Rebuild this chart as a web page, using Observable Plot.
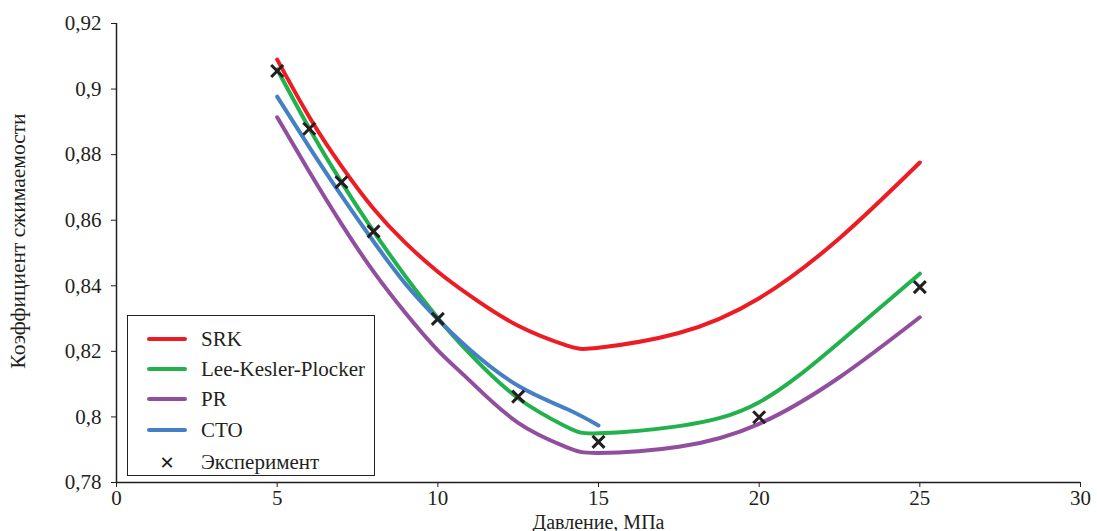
<!DOCTYPE html>
<html>
<head>
<meta charset="utf-8">
<script src="https://cdn.jsdelivr.net/npm/d3@7"></script>
<script src="https://cdn.jsdelivr.net/npm/@observablehq/plot@0.6"></script>
<style>
  body { margin: 0; background: white; }
  #wrap { position: relative; width: 1097px; height: 531px; font-family: "Liberation Serif", serif; }
  #wrap svg text { font-family: "Liberation Serif", serif; }
  #legend { position: absolute; left: 127px; top: 315px; width: 246px; height: 159px; border: 1.5px solid #231f20; background: white; }
  .row { position: absolute; left: 0; height: 24px; display: flex; align-items: center; font-size: 21px; color: #231f20; white-space: nowrap; }
  .sw { width: 40px; height: 4px; border-radius: 2px; margin-left: 19px; margin-right: 14px; }
  .cross { width: 40px; margin-left: 19px; margin-right: 14px; text-align: center; font-family: "DejaVu Sans"; font-weight: bold; font-size: 18px; color: #231f20; }
</style>
</head>
<body>
<div id="wrap"><div id="legend"></div></div>
<script>
const xLabel = "Давление, МПа";
const yLabel = "Коэффициент сжимаемости";
const xTicks = [0, 5, 10, 15, 20, 25, 30];
const yTicks = [0.78, 0.80, 0.82, 0.84, 0.86, 0.88, 0.90, 0.92];

const seriesNames = ["SRK", "Lee-Kesler-Plocker", "PR", "СТО"];
const seriesColors = ["#ED1C24", "#22B14C", "#924E9E", "#4680C4"];
const expName = "Эксперимент";

const xs  = [5, 6, 7, 8, 9, 10, 11, 12.5, 14, 15, 17.5, 20, 22.5, 25];
const srk = [0.909, 0.8915, 0.8765, 0.8635, 0.853, 0.8443, 0.837, 0.8278, 0.8218, 0.8211, 0.8256, 0.8362, 0.8545, 0.8776];
const lkp = [0.906, 0.888, 0.8716, 0.8566, 0.8428, 0.8302, 0.8192, 0.8057, 0.7970, 0.7950, 0.7972, 0.8045, 0.8228, 0.8437];
const pr  = [0.8914, 0.8748, 0.8589, 0.8443, 0.8316, 0.8203, 0.8110, 0.7982, 0.7908, 0.7890, 0.7909, 0.7979, 0.8121, 0.8304];
const stoX = [5, 6, 7, 8, 9, 10, 11, 12.5, 14, 15];
const sto  = [0.8977, 0.8823, 0.8675, 0.8535, 0.8405, 0.8298, 0.8205, 0.8095, 0.8025, 0.7974];

const expX = [5, 6, 7, 8, 10, 12.5, 15, 20, 25];
const expY = [0.9055, 0.8879, 0.8716, 0.8566, 0.8299, 0.8062, 0.7924, 0.7999, 0.8396];

const seriesData = [
  xs.map((x, i) => ({x, y: srk[i]})),
  xs.map((x, i) => ({x, y: lkp[i]})),
  xs.map((x, i) => ({x, y: pr[i]})),
  stoX.map((x, i) => ({x, y: sto[i]}))
];
const expData = expX.map((x, i) => ({x, y: expY[i]}));

const fmt = d => String(+d.toFixed(2)).replace(".", ",");
const ink = "#231f20";

const chart = Plot.plot({
  width: 1097,
  height: 531,
  marginLeft: 116,
  marginRight: 17,
  marginTop: 23,
  marginBottom: 49,
  style: {fontFamily: "Liberation Serif", fontSize: "21px", color: ink, background: "white"},
  x: {domain: [0, 30]},
  y: {domain: [0.78, 0.92]},
  marks: [
    Plot.axisX({ticks: xTicks, tickSize: 5, tickPadding: 3, label: null, fontSize: 21, stroke: ink}),
    Plot.axisY({ticks: yTicks, tickSize: 5, tickPadding: 10, tickFormat: fmt, label: null, fontSize: 21, stroke: ink}),
    Plot.ruleX([0], {stroke: ink, strokeWidth: 1.5}),
    Plot.ruleY([0.78], {stroke: ink, strokeWidth: 1.5}),
    ...seriesData.map((d, i) => Plot.line(d, {x: "x", y: "y", stroke: seriesColors[i], strokeWidth: 4, curve: "natural"})),
    Plot.dot(expData, {x: "x", y: "y", symbol: "times", r: 5.5, stroke: ink, strokeWidth: 3}),
    Plot.text([xLabel], {frameAnchor: "bottom", lineAnchor: "middle", textAnchor: "middle", dy: 40, fontSize: 20, fill: ink}),
    Plot.text([yLabel], {frameAnchor: "left", textAnchor: "middle", lineAnchor: "middle", dx: -98, dy: -12, rotate: -90, fontSize: 21.5, fill: ink})
  ]
});
document.getElementById("wrap").prepend(chart);

const legend = document.getElementById("legend");
const rowTops = [11, 41, 71, 102, 134];
seriesNames.forEach((n, i) => {
  const r = document.createElement("div");
  r.className = "row";
  r.style.top = rowTops[i] + "px";
  r.innerHTML = `<div class="sw" style="background:${seriesColors[i]}"></div><span>${n}</span>`;
  legend.appendChild(r);
});
const re = document.createElement("div");
re.className = "row";
re.style.top = rowTops[4] + "px";
re.innerHTML = `<div class="cross">✕</div><span>${expName}</span>`;
legend.appendChild(re);
</script>
</body>
</html>
